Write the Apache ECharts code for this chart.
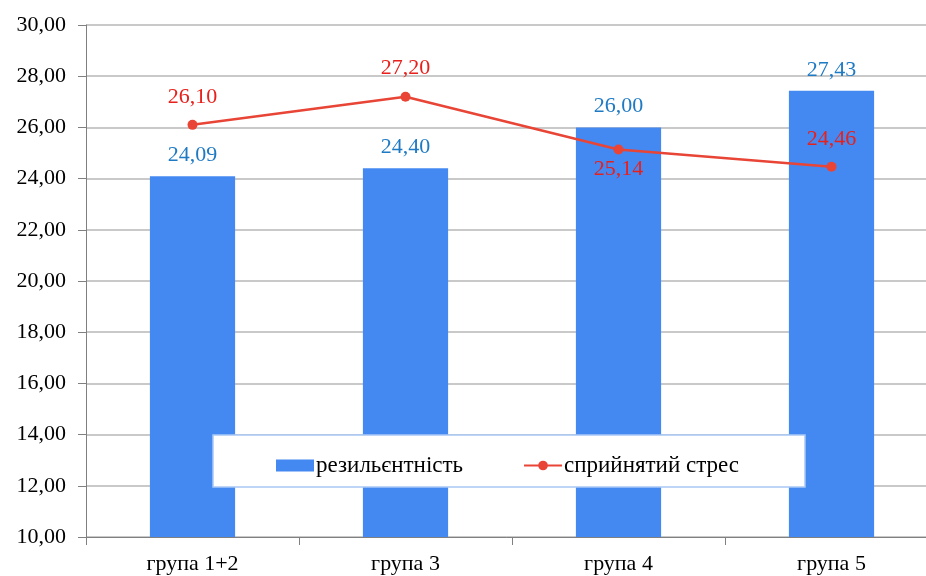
<!DOCTYPE html>
<html><head><meta charset="utf-8">
<script src="https://cdn.jsdelivr.net/npm/echarts@6/dist/echarts.min.js"></script>
<style>html,body{margin:0;padding:0;background:#fff;overflow:hidden}#c{width:926px;height:576px}</style>
</head><body><div id="c"></div>
<script>
const categories = ['група 1+2', 'група 3', 'група 4', 'група 5'];
const resilience = [24.09, 24.40, 26.00, 27.43];
const stress = [26.10, 27.20, 25.14, 24.46];
const stressLabelPos = ['top', 'top', 'bottom', 'top'];
const seriesNames = ['резильєнтність', 'сприйнятий стрес'];

const fmt = v => v.toFixed(2).replace('.', ',');
const font = 'Liberation Serif';
const chart = echarts.init(document.getElementById('c'));
chart.setOption({
  animation: false,
  textStyle: { fontFamily: font },
  grid: { left: 86, width: 852, top: 25, bottom: 39, outerBoundsMode: 'none', containLabel: false },
  graphic: [{
    type: 'rect', z: 50,
    shape: { x: 213, y: 435, width: 592, height: 52 },
    style: { fill: '#fff', stroke: '#a9c8f5', lineWidth: 1.5 }
  }],
  legend: {
    z: 60,
    left: 271, top: 449,
    itemWidth: 38, itemHeight: 12, itemGap: 60,
    textStyle: { fontFamily: font, fontSize: 23, color: '#000', padding: [0, 0, 0, -3] },
    data: [
      { name: seriesNames[0], icon: 'rect' },
      { name: seriesNames[1] }
    ]
  },
  xAxis: {
    type: 'category', data: categories,
    axisLine: { lineStyle: { color: '#808080' } },
    axisTick: { show: true, length: 8, lineStyle: { color: '#808080' } },
    axisLabel: { color: '#000', fontFamily: font, fontSize: 22, margin: 16 }
  },
  yAxis: {
    type: 'value', min: 10, max: 30, interval: 2,
    axisLine: { show: true, lineStyle: { color: '#808080' } },
    axisTick: { show: true, length: 8, lineStyle: { color: '#808080' } },
    splitLine: { lineStyle: { color: '#b7b7b7', width: 1.5 } },
    axisLabel: { color: '#000', fontFamily: font, fontSize: 22, margin: 20, formatter: v => fmt(v) }
  },
  series: [
    {
      name: seriesNames[0], type: 'bar', data: resilience, barWidth: '40%',
      itemStyle: { color: '#4488f2' },
      label: { show: true, position: 'top', distance: 10, color: '#1f7ac4', fontFamily: font, fontSize: 22,
        formatter: p => fmt(p.value) }
    },
    {
      name: seriesNames[1], type: 'line',
      data: stress.map((v, i) => ({ value: v, label: { position: stressLabelPos[i], distance: stressLabelPos[i] === 'top' ? 12 : 4 } })),
      symbol: 'circle', symbolSize: 10,
      lineStyle: { color: '#e84536', width: 2.5 },
      itemStyle: { color: '#e84536' },
      label: { show: true, color: '#e8201b', fontFamily: font, fontSize: 22,
        formatter: p => fmt(p.value) }
    }
  ]
});
</script></body></html>
